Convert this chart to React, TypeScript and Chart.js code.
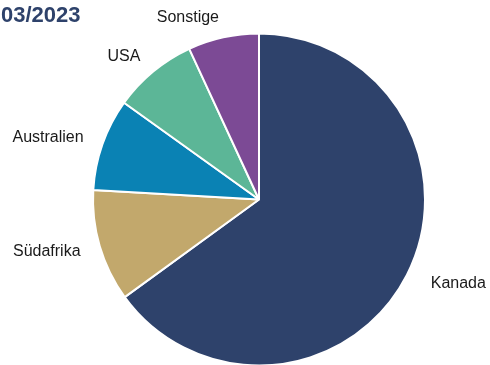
import React, { useEffect, useRef } from "react";
import { Chart, registerables } from "chart.js";

Chart.register(...registerables);

const categories = ["Kanada", "Südafrika", "Australien", "USA", "Sonstige"];
const values = [65.0, 10.9, 9.0, 8.2, 6.9];
const colors = ["#2E426B", "#C2A86C", "#0A82B4", "#5CB697", "#7C4A95"];
const titleText = "03/2023";

const labelPlugin = {
  id: "outerLabels",
  afterDraw(chart: any) {
    const ctx = chart.ctx;
    const meta = chart.getDatasetMeta(0);
    ctx.save();
    ctx.font = "16px 'Liberation Sans', Arial, sans-serif";
    ctx.fillStyle = "#1a1a1a";
    ctx.textBaseline = "middle";
    meta.data.forEach((arc: any, i: number) => {
      const p = arc.getProps(["x", "y", "startAngle", "endAngle", "outerRadius"], true);
      const mid = (p.startAngle + p.endAngle) / 2;
      const r = p.outerRadius + 20;
      const ax = p.x + Math.cos(mid) * r;
      const ay = p.y + Math.sin(mid) * r;
      const right = Math.cos(mid) >= 0;
      ctx.textAlign = right ? "left" : "right";
      ctx.fillText(categories[i], right ? ax + 6 : ax, ay);
    });
    ctx.font = "bold 22px 'Liberation Sans', Arial, sans-serif";
    ctx.fillStyle = "#2E426B";
    ctx.textAlign = "left";
    ctx.textBaseline = "alphabetic";
    ctx.fillText(titleText, 1, 22);
    ctx.restore();
  },
};

export default function App() {
  const ref = useRef<HTMLCanvasElement>(null);
  useEffect(() => {
    if (!ref.current) return;
    const chart = new Chart(ref.current, {
      type: "pie",
      data: {
        labels: categories,
        datasets: [
          {
            data: values,
            backgroundColor: colors,
            borderColor: "#ffffff",
            borderWidth: 2,
            radius: 166,
          } as any,
        ],
      },
      options: {
        responsive: false,
        animation: false,
        layout: { padding: { top: 34, left: 91, right: 63, bottom: 0 } },
        plugins: {
          legend: { display: false },
          tooltip: { enabled: false },
        },
      },
      plugins: [labelPlugin],
    });
    return () => chart.destroy();
  }, []);
  return (
    <div style={{ position: "absolute", left: 0, top: 0, width: 490, height: 365, background: "#fff" }}>
      <canvas ref={ref} width={490} height={365} />
    </div>
  );
}
